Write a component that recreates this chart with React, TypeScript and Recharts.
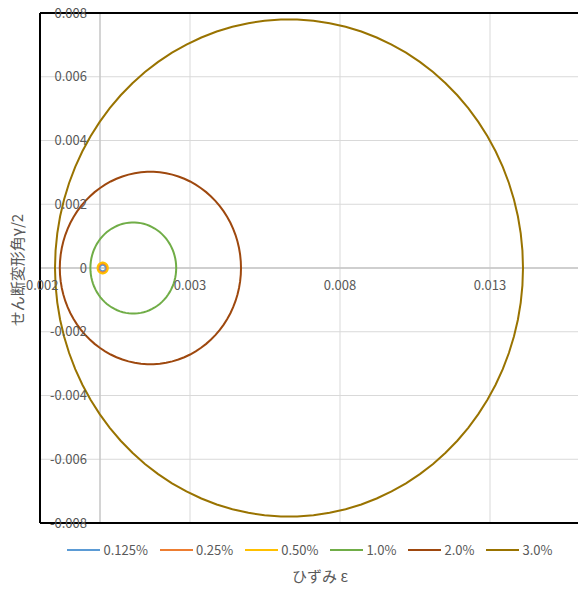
import React from "react"
import {
  ScatterChart,
  Scatter,
  XAxis,
  YAxis,
  CartesianGrid,
  ReferenceLine,
  ReferenceDot,
  Legend,
} from "recharts"

// Mohr's circles: one centre (ε) and one radius (γ/2) per strain level
const SERIES_NAMES = ["0.125%", "0.25%", "0.50%", "1.0%", "2.0%", "3.0%"]
const CENTERS = [0.00009, 0.00009, 0.00009, 0.00111, 0.00168, 0.0063]
const RADII = [0.0001, 0.00014, 0.00017, 0.00143, 0.00302, 0.0078]
const COLORS = ["#5B9BD5", "#ED7D31", "#FFC000", "#70AD47", "#9E480E", "#997300"]

const X_TICKS = [-0.002, 0.003, 0.008, 0.013]
const Y_TICKS = [-0.008, -0.006, -0.004, -0.002, 0, 0.002, 0.004, 0.006, 0.008]
const X_TICK_LABELS = ["-0.002", "0.003", "0.008", "0.013"]
const Y_TICK_LABELS = ["-0.008", "-0.006", "-0.004", "-0.002", "0", "0.002", "0.004", "0.006", "0.008"]

const TEXT = "#595959"
const FONT = "'Noto Sans CJK JP', 'Noto Sans', sans-serif"

// trace each circle from its centre and radius
function circle(cx: number, r: number) {
  const pts = []
  for (let i = 0; i <= 90; i++) {
    const a = (i / 90) * Math.PI * 2
    pts.push({ x: cx + r * Math.cos(a), y: r * Math.sin(a) })
  }
  return pts
}

const noDot = () => <g />

function LegendRow() {
  return (
    <div
      style={{
        display: "flex",
        justifyContent: "center",
        gap: 12,
        fontFamily: FONT,
        fontSize: 13,
        color: TEXT,
      }}
    >
      {SERIES_NAMES.map((n, i) => (
        <span key={n} style={{ display: "flex", alignItems: "center" }}>
          <span style={{ width: 33, height: 2, background: COLORS[i], marginRight: 3 }} />
          {n}
        </span>
      ))}
    </div>
  )
}

export default function App() {
  return (
    <div
      style={{
        position: "absolute",
        left: 0,
        top: 0,
        width: 578,
        height: 589,
        overflow: "hidden",
        background: "#fff",
      }}
    >
      <ScatterChart width={580} height={589} margin={{ top: 13, right: 0, bottom: 66, left: 40 }}>
        <XAxis type="number" dataKey="x" domain={[-0.002, 0.016]} ticks={X_TICKS} hide allowDataOverflow />
        <YAxis type="number" dataKey="y" domain={[-0.008, 0.008]} ticks={Y_TICKS} hide allowDataOverflow />
        <CartesianGrid stroke="#d9d9d9" />
        <ReferenceLine x={0} stroke="#c6c6c6" strokeWidth={1.5} />
        <ReferenceLine y={0} stroke="#c6c6c6" strokeWidth={1.5} />

        {X_TICKS.map((v, i) => (
          <ReferenceDot
            key={"xt" + v}
            x={v}
            y={0}
            r={0}
            stroke="none"
            fill="none"
            ifOverflow="visible"
            label={{
              value: X_TICK_LABELS[i],
              position: "bottom",
              offset: 13,
              fill: TEXT,
              fontSize: 13,
              fontFamily: FONT,
            }}
          />
        ))}
        {Y_TICKS.map((v, i) => (
          <ReferenceDot
            key={"yt" + v}
            x={0}
            y={v}
            r={0}
            stroke="none"
            fill="none"
            ifOverflow="visible"
            label={{
              value: Y_TICK_LABELS[i],
              position: "left",
              offset: 13,
              fill: TEXT,
              fontSize: 13,
              fontFamily: FONT,
            }}
          />
        ))}

        {SERIES_NAMES.map((n, i) => (
          <Scatter
            key={n}
            name={n}
            data={circle(CENTERS[i], RADII[i])}
            fill={COLORS[i]}
            line={{ stroke: COLORS[i], strokeWidth: 2 }}
            lineType="joint"
            shape={noDot}
            isAnimationActive={false}
          />
        ))}

        <ReferenceLine x={-0.002} stroke="#000" strokeWidth={2} />
        <ReferenceLine y={0.008} stroke="#000" strokeWidth={2} />
        <ReferenceLine y={-0.008} stroke="#000" strokeWidth={2} />

        <Legend
          layout="horizontal"
          verticalAlign="middle"
          align="center"
          wrapperStyle={{ top: 540, left: 0, width: 620 }}
          content={() => <LegendRow />}
        />
      </ScatterChart>

      <div
        style={{
          position: "absolute",
          left: 0,
          width: 640,
          top: 565,
          textAlign: "center",
          fontFamily: FONT,
          fontSize: 15,
          color: TEXT,
        }}
      >
        ひずみ ε
      </div>
      <div
        style={{
          position: "absolute",
          left: 16,
          top: 270,
          transform: "translate(-50%, -50%) rotate(-90deg)",
          whiteSpace: "nowrap",
          fontFamily: FONT,
          fontSize: 15,
          color: TEXT,
        }}
      >
        せん断変形角γ/2
      </div>
    </div>
  )
}
